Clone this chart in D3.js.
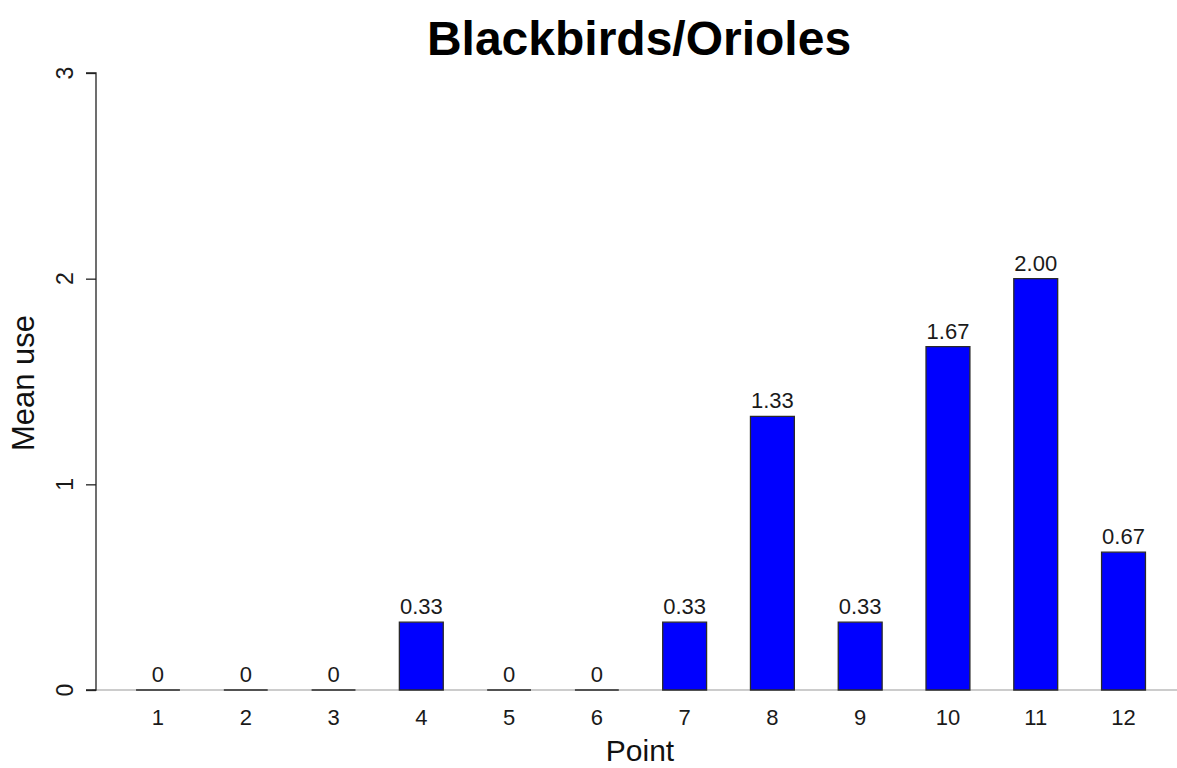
<!DOCTYPE html>
<html>
<head>
<meta charset="utf-8">
<script src="https://cdn.jsdelivr.net/npm/d3@7"></script>
<style>
  html, body { margin: 0; padding: 0; background: #fff; }
  svg { display: block; font-family: "Liberation Sans", Arial, sans-serif; }
</style>
</head>
<body>
<svg id="chart" width="1177" height="768"></svg>
<script>
const categories = ["1","2","3","4","5","6","7","8","9","10","11","12"];
const values = [0, 0, 0, 0.33, 0, 0, 0.33, 1.33, 0.33, 1.67, 2.00, 0.67];
const yTicks = [0, 1, 2, 3];
const title = "Blackbirds/Orioles";
const xTitle = "Point";
const yTitle = "Mean use";

const svg = d3.select("#chart");
const W = 1177, H = 768;

const x = d3.scaleBand().domain(categories).range([114.1, 1167.4])
  .paddingInner(0.5).paddingOuter(0.25);
const y = d3.scaleLinear().domain([0, 3]).range([690, 73]);

// baseline (gray)
svg.append("line")
  .attr("x1", 92).attr("x2", W)
  .attr("y1", y(0)).attr("y2", y(0))
  .attr("stroke", "#999").attr("stroke-width", 1.2);

// bars
svg.append("g").selectAll("path").data(values).join("path")
  .attr("d", (v, i) => {
    const x0 = x(categories[i]), x1 = x0 + x.bandwidth();
    const y0 = y(0), y1 = y(v);
    return `M${x0},${y0}H${x1}V${y1}H${x0}Z`;
  })
  .attr("fill", "#0000ff")
  .attr("stroke", "#2a2a2a")
  .attr("stroke-width", 1.3);

// value labels
svg.append("g").selectAll("text").data(values).join("text")
  .attr("x", (v, i) => x(categories[i]) + x.bandwidth() / 2)
  .attr("y", v => y(v) - 8)
  .attr("text-anchor", "middle")
  .attr("font-size", 22)
  .attr("fill", "#1a1a1a")
  .text(v => v === 0 ? "0" : v.toFixed(2));

// x tick labels
svg.append("g").selectAll("text").data(categories).join("text")
  .attr("x", c => x(c) + x.bandwidth() / 2)
  .attr("y", 725)
  .attr("text-anchor", "middle")
  .attr("font-size", 22)
  .attr("fill", "#1a1a1a")
  .text(c => c);

// y axis (line + ticks via d3 axis, labels drawn separately)
const yAxis = d3.axisLeft(y).tickValues(yTicks).tickSize(10).tickFormat("");
const gy = svg.append("g").attr("transform", "translate(96,0)").call(yAxis);
gy.select(".domain").attr("stroke", "#222").attr("stroke-width", 1.3).attr("d", `M-10,${y(3)}H0V${y(0)}H-10`);
gy.selectAll(".tick line").attr("stroke", "#222").attr("stroke-width", 1.3);

svg.append("g").selectAll("text").data(yTicks).join("text")
  .attr("transform", d => `translate(73,${y(d)}) rotate(-90)`)
  .attr("text-anchor", "middle")
  .attr("font-size", 23)
  .attr("fill", "#1a1a1a")
  .text(d => d3.format("d")(d));

// title
svg.append("text")
  .attr("x", 639).attr("y", 55)
  .attr("text-anchor", "middle")
  .attr("font-size", 48)
  .attr("font-weight", "bold")
  .attr("fill", "#000")
  .text(title);

// x title
svg.append("text")
  .attr("x", 640).attr("y", 761)
  .attr("text-anchor", "middle")
  .attr("font-size", 30)
  .attr("fill", "#111")
  .text(xTitle);

// y title
svg.append("text")
  .attr("transform", "translate(34,383) rotate(-90)")
  .attr("text-anchor", "middle")
  .attr("font-size", 31)
  .attr("fill", "#111")
  .text(yTitle);
</script>
</body>
</html>
